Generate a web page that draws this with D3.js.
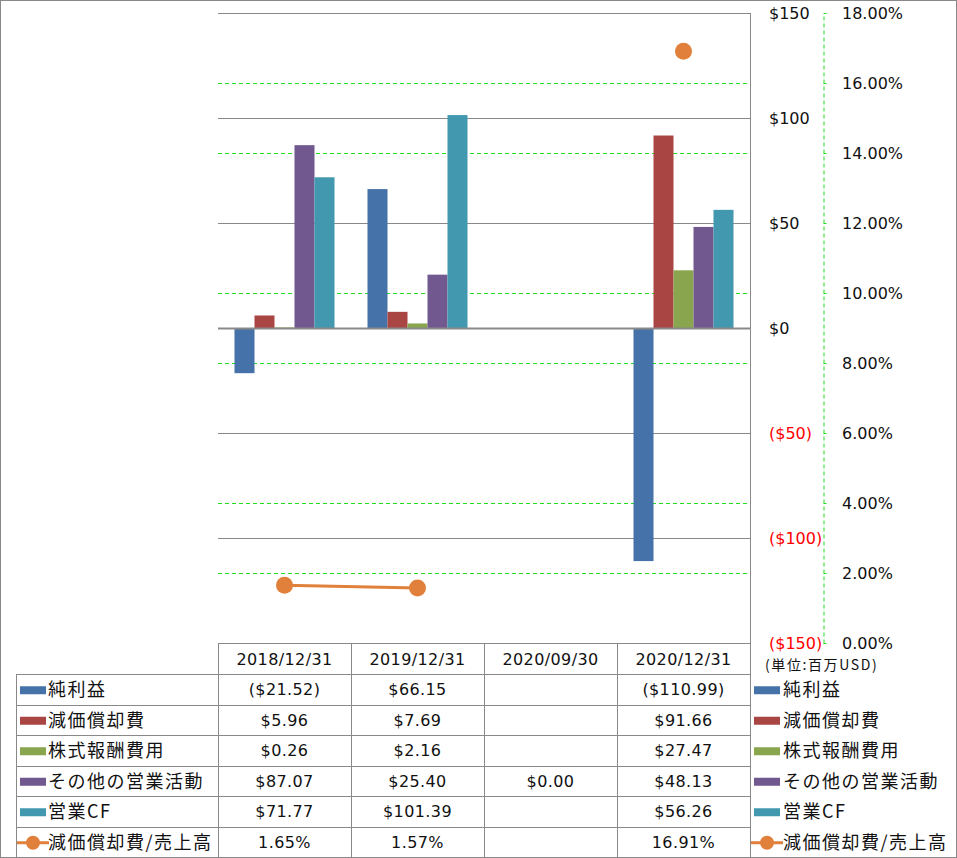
<!DOCTYPE html>
<html><head><meta charset="utf-8">
<script src="https://cdn.jsdelivr.net/npm/d3@7"></script>
<style>
html,body{margin:0;padding:0;background:#fff;}
svg{display:block;}
.num{font-family:"DejaVu Sans",Verdana,sans-serif;font-size:16px;letter-spacing:0.4px;}
.jp{font-family:"Noto Sans CJK JP",sans-serif;font-size:18px;fill:#111;letter-spacing:1.5px;}
</style></head>
<body>
<svg id="c" width="957" height="858"></svg>
<script>
const categories = ["2018/12/31","2019/12/31","2020/09/30","2020/12/31"];
const seriesNames = ["純利益","減価償却費","株式報酬費用","その他の営業活動","営業CF"];
const netIncome   = [-21.52, 66.15, null, -110.99];
const depreciation= [5.96, 7.69, null, 91.66];
const stockComp   = [0.26, 2.16, null, 27.47];
const otherOps    = [87.07, 25.40, 0.00, 48.13];
const operatingCF = [71.77, 101.39, null, 56.26];
const lineName = "減価償却費/売上高";
const depRatio = [1.65, 1.57, null, 16.91];
const leftTicks = [-150,-100,-50,0,50,100,150];
const rightTicks = [0,2,4,6,8,10,12,14,16,18];
const unitLabel = "(単位:百万USD)";

const barSeries = [netIncome, depreciation, stockComp, otherOps, operatingCF];
const colors = ["#4573A9","#A94543","#89A54E","#71588F","#4198AF"];
const lineColor = "#E0803A";
const gridColor = "#898989";
const green = "#22dd22";

const svg = d3.select("#c");
const W = 957, H = 858;
const plotL = 218, plotR = 750, plotT = 13, plotB = 643;

const x = d3.scaleBand().domain(categories).range([plotL, plotR]);
const xi = d3.scaleBand().domain(seriesNames).range([16.5, 116.5]);
const y = d3.scaleLinear().domain([-150,150]).range([plotB, plotT]);
const y2 = d3.scaleLinear().domain([0,18]).range([plotB, plotT]);

// outer border
svg.append("rect").attr("x",0.5).attr("y",0.5).attr("width",W-1).attr("height",H-1)
  .attr("fill","#fff").attr("stroke",gridColor);

// dashed secondary gridlines
svg.append("g").selectAll("line").data(rightTicks).join("line")
  .attr("x1",plotL).attr("x2",plotR)
  .attr("y1",d=>Math.round(y2(d))+0.5).attr("y2",d=>Math.round(y2(d))+0.5)
  .attr("stroke",green).attr("stroke-dasharray","4,3").attr("stroke-width",1);

// solid primary gridlines
svg.append("g").selectAll("line").data(leftTicks.filter(d=>d!==0)).join("line")
  .attr("x1",plotL).attr("x2",plotR)
  .attr("y1",d=>Math.round(y(d))+0.5).attr("y2",d=>Math.round(y(d))+0.5)
  .attr("stroke",gridColor).attr("stroke-width",1);

// bars
const bars = svg.append("g");
seriesNames.forEach((s,si)=>{
  bars.append("g").selectAll("rect")
    .data(categories.map((c,ci)=>({c,v:barSeries[si][ci]})).filter(d=>d.v!==null && d.v!==0))
    .join("rect")
    .attr("x",d=>x(d.c)+xi(s))
    .attr("width",xi.bandwidth())
    .attr("y",d=>y(Math.max(0,d.v)))
    .attr("height",d=>Math.abs(y(d.v)-y(0)))
    .attr("fill",colors[si]);
});

// zero line on top
svg.append("line").attr("x1",plotL).attr("x2",plotR)
  .attr("y1",Math.round(y(0))+0.5).attr("y2",Math.round(y(0))+0.5)
  .attr("stroke",gridColor).attr("stroke-width",2);

// plot right border
svg.append("line").attr("x1",plotR+0.5).attr("x2",plotR+0.5).attr("y1",plotT).attr("y2",plotB)
  .attr("stroke",gridColor);

// line series
const pts = categories.map((c,i)=>({c,v:depRatio[i]}));
const line = d3.line().defined(d=>d.v!==null)
  .x(d=>x(d.c)+x.bandwidth()/2).y(d=>y2(d.v));
svg.append("path").datum(pts).attr("d",line).attr("fill","none")
  .attr("stroke",lineColor).attr("stroke-width",3);
svg.append("g").selectAll("circle").data(pts.filter(d=>d.v!==null)).join("circle")
  .attr("cx",d=>x(d.c)+x.bandwidth()/2).attr("cy",d=>y2(d.v)).attr("r",8.5)
  .attr("fill",lineColor);

// primary axis labels
const fmtL = d => d<0 ? "($"+Math.abs(d)+")" : "$"+d;
const axL = svg.append("g").attr("transform","translate(769,0)")
  .call(d3.axisRight(y).tickValues(leftTicks).tickSize(0).tickPadding(0).tickFormat(fmtL));
axL.select(".domain").remove();
axL.selectAll("text").attr("class","num").style("letter-spacing","0px")
  .style("fill",d=>d<0?"#ff0000":"#111");

// secondary axis
const axR = svg.append("g").attr("transform","translate(823.5,0)")
  .call(d3.axisRight(y2).tickValues(rightTicks).tickSize(3).tickSizeOuter(0).tickPadding(15.5)
    .tickFormat(d=>d.toFixed(2)+"%"));
axR.select(".domain").attr("stroke",green).attr("stroke-dasharray","4,3");
axR.selectAll(".tick line").attr("stroke",green);
axR.selectAll("text").attr("class","num").style("letter-spacing","0px").style("fill","#111");

// unit label
svg.append("text").attr("x",765).attr("y",670).text(unitLabel)
  .attr("font-family","Noto Sans CJK JP").attr("font-size","14px")
  .style("letter-spacing","1.6px").attr("fill","#111");

// table
const rowTop = 674, rowH = 30.5, nRows = 6;
const tb = svg.append("g");
const hl = (x1,x2,yy)=>tb.append("line").attr("x1",x1).attr("x2",x2).attr("y1",yy).attr("y2",yy).attr("stroke",gridColor);
const vl = (xx,y1,y2_)=>tb.append("line").attr("x1",xx).attr("x2",xx).attr("y1",y1).attr("y2",y2_).attr("stroke",gridColor);
hl(plotL, plotR, plotB+0.5);
for(let r=0;r<=nRows;r++) hl(16, plotR, Math.round(rowTop + r*rowH)+0.5);
vl(16.5, rowTop, H);
categories.forEach(c=>vl(Math.round(x(c))+0.5, plotB, H));
vl(plotR+0.5, plotB, H);

// header
tb.selectAll("text.h").data(categories).join("text").attr("class","num").style("fill","#111")
  .attr("x",d=>x(d)+x.bandwidth()/2).attr("y",(plotB+rowTop)/2+6)
  .attr("text-anchor","middle").text(d=>d);

const fmtV = v => v===null ? "" : (v<0 ? "($"+Math.abs(v).toFixed(2)+")" : "$"+v.toFixed(2));
const allRows = barSeries.map((s,i)=>({name:seriesNames[i],vals:s.map(fmtV),color:colors[i],type:"bar"}));
allRows.push({name:lineName, vals:depRatio.map(v=>v===null?"":v.toFixed(2)+"%"), color:lineColor, type:"line"});

allRows.forEach((r,ri)=>{
  const cy = rowTop + ri*rowH + rowH/2;
  categories.forEach((c,ci)=>{
    tb.append("text").attr("class","num").style("fill","#111").attr("x",x(c)+x.bandwidth()/2).attr("y",cy+6)
      .attr("text-anchor","middle").text(r.vals[ci]);
  });
  [[20,48],[754,783]].forEach(([sx,tx])=>{
    if(r.type==="bar"){
      tb.append("rect").attr("x",sx).attr("y",cy-3).attr("width",26).attr("height",8).attr("fill",r.color);
    } else {
      tb.append("line").attr("x1",sx-3).attr("x2",sx+29).attr("y1",cy+1).attr("y2",cy+1)
        .attr("stroke",r.color).attr("stroke-width",3);
      tb.append("circle").attr("cx",sx+13).attr("cy",cy+1).attr("r",7).attr("fill",r.color);
    }
    tb.append("text").attr("class","jp").attr("x",tx).attr("y",cy+7).text(r.name);
  });
});
</script>
</body></html>
